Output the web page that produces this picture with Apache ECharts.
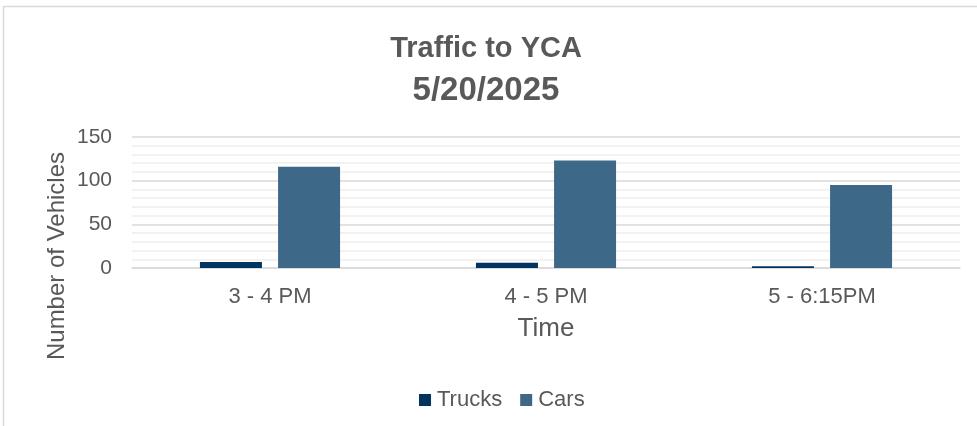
<!DOCTYPE html>
<html>
<head>
<meta charset="utf-8">
<script src="https://cdn.jsdelivr.net/npm/echarts@6/dist/echarts.min.js"></script>
<style>
  html, body { margin: 0; padding: 0; background: #fff; }
  #chart { width: 977px; height: 426px; }
</style>
</head>
<body>
<div id="chart"></div>
<script>
// data
var categories = ['3 - 4 PM', '4 - 5 PM', '5 - 6:15PM'];
var trucks = [7, 6, 2];
var cars = [116, 123, 95];

var textColor = '#595959';
var font = '"Liberation Sans", Arial, sans-serif';

var myChart = echarts.init(document.getElementById('chart'));
myChart.setOption({
    backgroundColor: '#fff',
    textStyle: { fontFamily: font },
    title: {
        text: '{a|Traffic to YCA}\n{b|5/20/2025}',
        left: 481,
        top: 23,
        textAlign: 'center',
        textStyle: {
            color: textColor,
            fontWeight: 'bold',
            fontFamily: font,
            rich: {
                a: { fontSize: 29, fontWeight: 'bold', color: textColor, lineHeight: 42, fontFamily: font },
                b: { fontSize: 33, fontWeight: 'bold', color: textColor, lineHeight: 42, fontFamily: font }
            }
        }
    },
    legend: {
        data: ['Trucks', 'Cars'],
        left: 414,
        top: 384,
        itemWidth: 12,
        itemHeight: 12,
        itemGap: 18,
        icon: 'rect',
        textStyle: { color: textColor, fontSize: 22, padding: [0, 0, 0, 1] }
    },
    grid: {
        left: 132,
        right: 17,
        top: 137,
        bottom: 158
    },
    xAxis: {
        type: 'category',
        data: categories,
        name: 'Time',
        nameLocation: 'middle',
        nameGap: 48,
        nameTextStyle: { color: textColor, fontSize: 26 },
        axisLine: { lineStyle: { color: '#d9d9d9', width: 1.5 } },
        axisTick: { show: false },
        axisLabel: { color: textColor, fontSize: 22, margin: 18 }
    },
    yAxis: {
        type: 'value',
        min: 0,
        max: 150,
        interval: 50,
        axisLine: { show: false },
        axisTick: { show: false },
        axisLabel: { color: textColor, fontSize: 21, margin: 20 },
        splitLine: { lineStyle: { color: '#d9d9d9', width: 1.5 } },
        minorTick: { show: false, splitNumber: 5 },
        minorSplitLine: { show: true, lineStyle: { color: '#eeeeee', width: 1.5 } }
    },
    graphic: [
        {
            type: 'rect',
            shape: { x: 3.5, y: 6.5, width: 1000, height: 440 },
            style: { fill: 'none', stroke: '#d9d9d9', lineWidth: 1.5 },
            silent: true
        },
        {
            type: 'text',
            x: 57,
            y: 256,
            rotation: Math.PI / 2,
            style: {
                text: 'Number of Vehicles',
                fill: textColor,
                font: '24px ' + font,
                align: 'center',
                verticalAlign: 'middle'
            }
        }
    ],
    series: [
        {
            name: 'Trucks',
            type: 'bar',
            barWidth: 62,
            barGap: '26%',
            itemStyle: { color: '#023460' },
            data: trucks
        },
        {
            name: 'Cars',
            type: 'bar',
            barWidth: 62,
            barGap: '26%',
            itemStyle: { color: '#3e6888' },
            data: cars
        }
    ]
});
</script>
</body>
</html>
